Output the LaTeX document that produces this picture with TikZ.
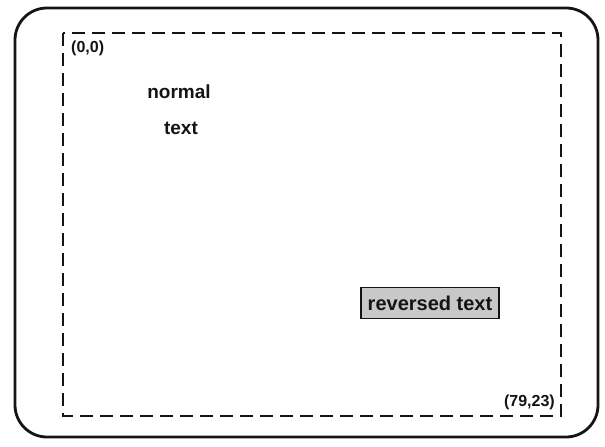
\documentclass[tikz,border=0pt]{standalone}
\usepackage{fontspec}
\setmainfont{Liberation Sans}
\usetikzlibrary{positioning}
\definecolor{ink}{RGB}{20,20,20}
\definecolor{stipple}{RGB}{200,200,200}

\begin{document}
\begin{tikzpicture}[x=1pt,y=-1pt,screen/.style={draw=ink,line width=2.8pt,rounded corners=32pt},window/.style={draw=ink,line width=1.7pt,dash pattern=on 13pt off 7pt},lbl/.style={inner sep=0pt,font=\bfseries\fontsize{16}{18}\selectfont,text=ink},txt/.style={inner sep=0pt,font=\bfseries\fontsize{19}{22}\selectfont,text=ink},rev/.style={draw=ink,line width=1.6pt,fill=stipple,inner xsep=7pt,inner ysep=8pt,font=\bfseries\fontsize{20}{23}\selectfont,text=ink}]
\useasboundingbox (0,0) rectangle (605,447);
\draw[screen] (15,8) rectangle (598,437);
\draw[window] (63,33) rectangle (561,416);
\node[lbl,anchor=north west] (origin) at (71,41) {(0,0)};
\node[lbl,anchor=south east] (corner) at (555,410) {(79,23)};
\node[txt] (normal) at (179,92) {normal};
\node[txt] (plain) at (181,128) {text};
\node[rev] (reversed) at (430,303) {reversed text};
\end{tikzpicture}
\end{document}
